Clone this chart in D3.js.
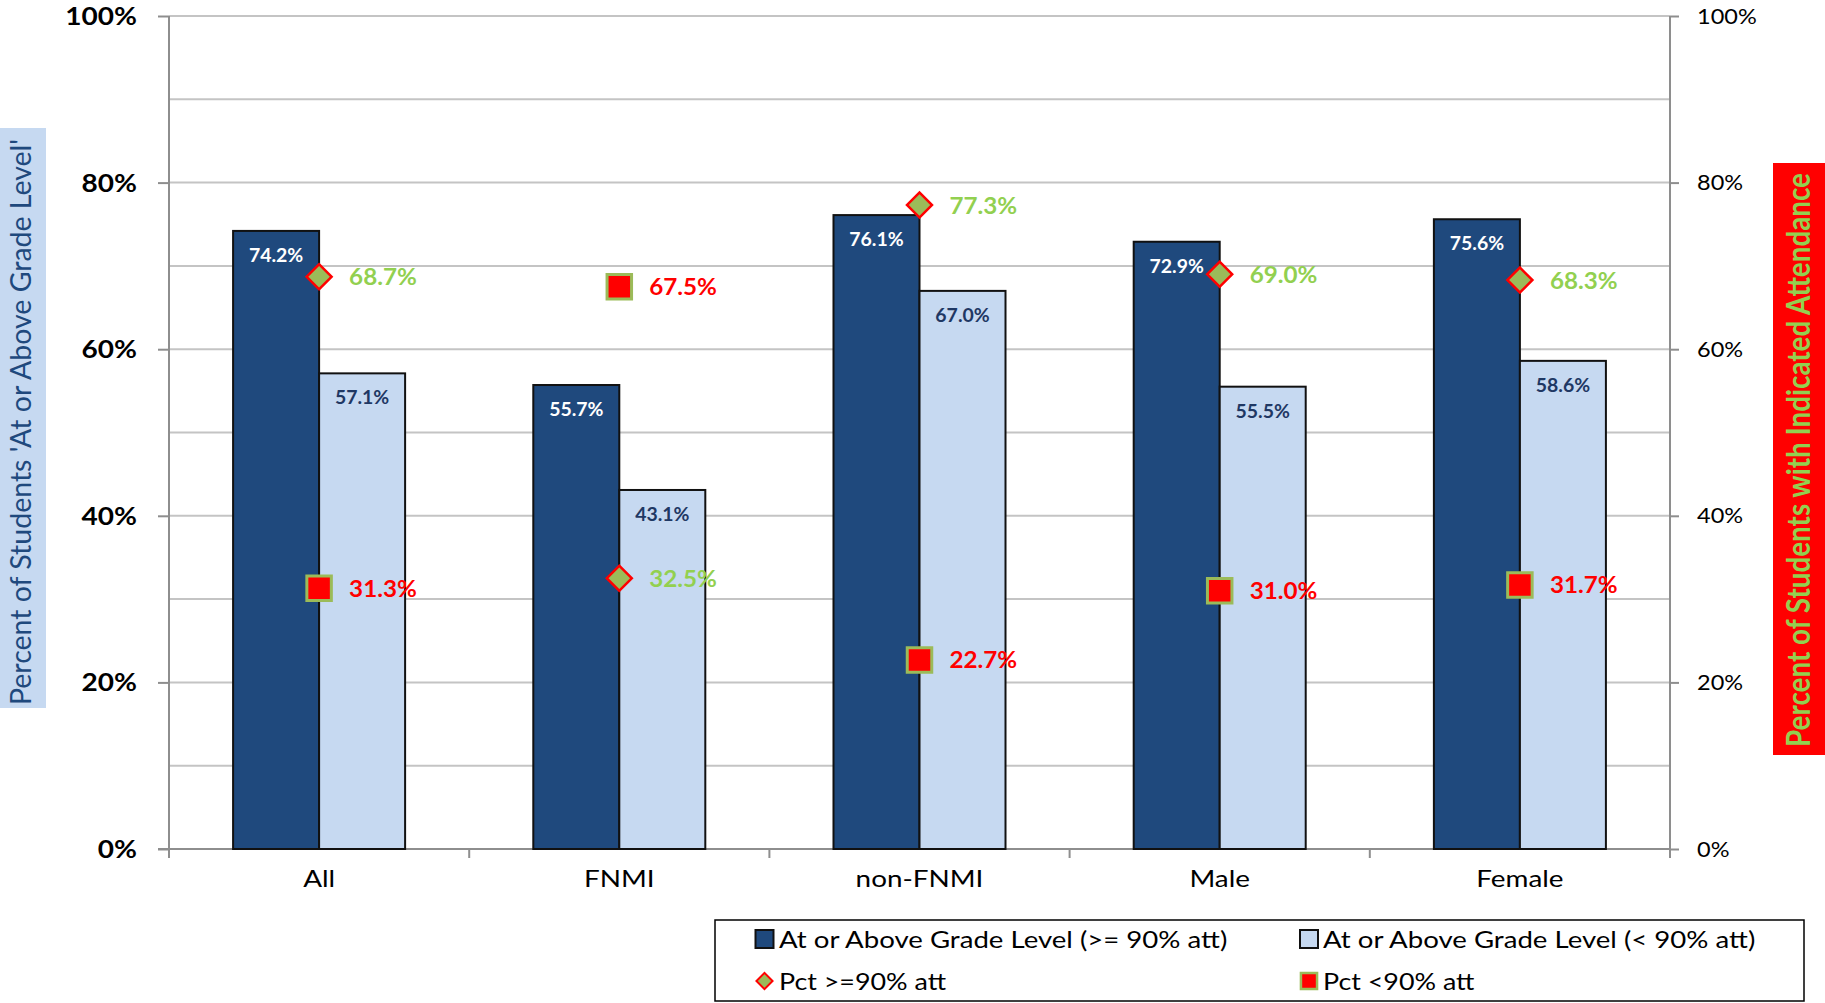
<!DOCTYPE html>
<html>
<head>
<meta charset="utf-8">
<script src="https://cdn.jsdelivr.net/npm/d3@7"></script>
<style>
  html, body { margin: 0; padding: 0; background: #ffffff; }
  svg { display: block; font-family: Lato, "Open Sans", sans-serif; }
</style>
</head>
<body>
<svg id="chart" width="1825" height="1003"></svg>
<script>
// Student groups along the x axis
const categories = ["All", "FNMI", "non-FNMI", "Male", "Female"];
// Percent at or above grade level, by attendance band (left axis)
const gradeHighAtt = [74.2, 55.7, 76.1, 72.9, 75.6];
const gradeLowAtt = [57.1, 43.1, 67.0, 55.5, 58.6];
// Share of students in each attendance band (right axis)
const pctHighAtt = [68.7, 32.5, 77.3, 69.0, 68.3];
const pctLowAtt = [31.3, 67.5, 22.7, 31.0, 31.7];
// Axis ticks
const majorTicks = [0, 20, 40, 60, 80, 100];
const gridTicks = [10, 20, 30, 40, 50, 60, 70, 80, 90, 100];

const legendItems = [
  { label: "At or Above Grade Level (>= 90% att)", kind: "barHigh" },
  { label: "At or Above Grade Level (< 90% att)", kind: "barLow" },
  { label: "Pct >=90% att", kind: "diamond" },
  { label: "Pct <90% att", kind: "square" }
];

const C = {
  dark: "#1F497D",
  light: "#C6D9F1",
  olive: "#9BBB59",
  green: "#92D050",
  red: "#FF0000",
  navyText: "#1F3864",
  grid: "#C4C4C4",
  axis: "#8E8E8E"
};

const svg = d3.select("#chart");
const plot = { left: 169, right: 1670, top: 16, bottom: 849 };

const x = d3.scaleBand().domain(categories).range([plot.left, plot.right]).padding(0);
const inner = d3.scaleBand().domain(["high", "low"])
  .range([x.bandwidth() * 0.2135, x.bandwidth() * 0.7865]).padding(0);
const yLeft = d3.scaleLinear().domain([0, 100]).range([plot.bottom, plot.top]);
const yRight = d3.scaleLinear().domain([0, 100]).range([plot.bottom, plot.top]);

// Text helper: horizontal stretch via scale() to mimic the wide face of the original
function label(parent, px, py, str, o) {
  const g = parent.append("g")
    .attr("transform", `translate(${px},${py}) rotate(${o.rotate || 0}) scale(${o.sx || 1},${o.sy || 1})`);
  g.append("text")
    .attr("text-anchor", o.anchor || "start")
    .attr("dominant-baseline", o.baseline || "alphabetic")
    .attr("font-size", o.size)
    .attr("font-weight", o.weight || 400)
    .attr("fill", o.fill || "#000")
    .text(str);
  return g;
}

// Horizontal gridlines
svg.append("g").selectAll("line").data(gridTicks).join("line")
  .attr("x1", plot.left).attr("x2", plot.right)
  .attr("y1", d => yLeft(d)).attr("y2", d => yLeft(d))
  .attr("stroke", C.grid).attr("stroke-width", 2);

// Left axis (major ticks only)
const leftAxis = svg.append("g").attr("transform", `translate(${plot.left},0)`)
  .call(d3.axisLeft(yLeft).tickValues(majorTicks).tickSize(11).tickFormat(""));
leftAxis.select(".domain").remove();
leftAxis.selectAll(".tick line").attr("stroke", C.axis).attr("stroke-width", 2);
svg.append("line").attr("x1", plot.left).attr("x2", plot.left)
  .attr("y1", plot.top).attr("y2", plot.bottom + 9)
  .attr("stroke", C.axis).attr("stroke-width", 2);

// Right axis
const rightAxis = svg.append("g").attr("transform", `translate(${plot.right},0)`)
  .call(d3.axisRight(yRight).tickValues(majorTicks).tickSize(9).tickFormat(""));
rightAxis.select(".domain").remove();
rightAxis.selectAll(".tick line").attr("stroke", C.axis).attr("stroke-width", 2);
svg.append("line").attr("x1", plot.right).attr("x2", plot.right)
  .attr("y1", plot.top).attr("y2", plot.bottom + 9)
  .attr("stroke", C.axis).attr("stroke-width", 2);

// Bottom axis with category separator ticks
svg.append("line").attr("x1", plot.left - 11).attr("x2", plot.right)
  .attr("y1", plot.bottom).attr("y2", plot.bottom)
  .attr("stroke", C.axis).attr("stroke-width", 2);
svg.append("g").selectAll("line").data(categories.slice(1)).join("line")
  .attr("x1", d => x(d)).attr("x2", d => x(d))
  .attr("y1", plot.bottom).attr("y2", plot.bottom + 9)
  .attr("stroke", C.axis).attr("stroke-width", 2);

// Tick labels
majorTicks.forEach(t => {
  label(svg, 137, yLeft(t) + 9, t + "%", { size: 25, weight: 700, anchor: "end", sx: 1.12 });
  label(svg, 1697, yRight(t) + 7.5, t + "%", { size: 21, anchor: "start", sx: 1.12 });
});
categories.forEach(c => {
  label(svg, x(c) + x.bandwidth() / 2, 887, c, { size: 24, anchor: "middle", sx: 1.16 });
});

// Bars
const rows = categories.map((c, i) => ({
  cat: c, high: gradeHighAtt[i], low: gradeLowAtt[i], pHigh: pctHighAtt[i], pLow: pctLowAtt[i]
}));

const groups = svg.append("g").selectAll("g").data(rows).join("g")
  .attr("transform", d => `translate(${x(d.cat)},0)`);

groups.append("rect")
  .attr("x", inner("high")).attr("width", inner.bandwidth())
  .attr("y", d => yLeft(d.high)).attr("height", d => yLeft(0) - yLeft(d.high))
  .attr("fill", C.dark).attr("stroke", "#111").attr("stroke-width", 2);
groups.append("rect")
  .attr("x", inner("low")).attr("width", inner.bandwidth())
  .attr("y", d => yLeft(d.low)).attr("height", d => yLeft(0) - yLeft(d.low))
  .attr("fill", C.light).attr("stroke", "#111").attr("stroke-width", 2);

rows.forEach(d => {
  const bx = x(d.cat);
  label(svg, bx + inner("high") + inner.bandwidth() / 2, yLeft(d.high) + 31, d.high.toFixed(1) + "%",
    { size: 18, weight: 700, anchor: "middle", fill: "#ffffff", sx: 1.08 });
  label(svg, bx + inner("low") + inner.bandwidth() / 2, yLeft(d.low) + 31, d.low.toFixed(1) + "%",
    { size: 18, weight: 700, anchor: "middle", fill: C.navyText, sx: 1.08 });
});

// Attendance-share markers, centred on each category
const diamond = d3.symbol(d3.symbolSquare, 313);
const square = d3.symbol(d3.symbolSquare, 600);

rows.forEach(d => {
  const cx = x(d.cat) + x.bandwidth() / 2;
  svg.append("path").attr("d", diamond())
    .attr("transform", `translate(${cx},${yRight(d.pHigh)}) rotate(45)`)
    .attr("fill", C.olive).attr("stroke", C.red).attr("stroke-width", 2.5);
  label(svg, cx + 30, yRight(d.pHigh) + 8.5, d.pHigh.toFixed(1) + "%",
    { size: 22, weight: 700, fill: C.green, sx: 1.1 });

  svg.append("path").attr("d", square())
    .attr("transform", `translate(${cx},${yRight(d.pLow)})`)
    .attr("fill", C.red).attr("stroke", C.olive).attr("stroke-width", 3);
  label(svg, cx + 30, yRight(d.pLow) + 8.5, d.pLow.toFixed(1) + "%",
    { size: 22, weight: 700, fill: C.red, sx: 1.1 });
});

// Axis titles
svg.append("rect").attr("x", 0).attr("y", 128).attr("width", 46).attr("height", 580).attr("fill", C.light);
label(svg, 31, 422, "Percent of Students 'At or Above Grade Level'",
  { size: 25, fill: C.dark, anchor: "middle", rotate: -90, sx: 1.14, sy: 1.15 });

svg.append("rect").attr("x", 1773).attr("y", 163).attr("width", 52).attr("height", 592).attr("fill", C.red);
label(svg, 1810, 460, "Percent of Students with Indicated Attendance",
  { size: 27, weight: 700, fill: C.green, anchor: "middle", rotate: -90, sx: 1.03, sy: 1.18 });

// Legend
svg.append("rect").attr("x", 715).attr("y", 920).attr("width", 1089).attr("height", 81)
  .attr("fill", "#fff").attr("stroke", "#000").attr("stroke-width", 1.5);

const legendPos = [
  { mx: 764.5, tx: 779, y: 939, sx: 1.15 },
  { mx: 1309, tx: 1323, y: 939, sx: 1.15 },
  { mx: 764.5, tx: 779, y: 981, sx: 1.12 },
  { mx: 1309, tx: 1323, y: 981, sx: 1.12 }
];
legendItems.forEach((it, i) => {
  const p = legendPos[i];
  if (it.kind === "barHigh" || it.kind === "barLow") {
    svg.append("rect").attr("x", p.mx - 9).attr("y", p.y - 9).attr("width", 18).attr("height", 18)
      .attr("fill", it.kind === "barHigh" ? C.dark : C.light).attr("stroke", "#111").attr("stroke-width", 2);
  } else if (it.kind === "diamond") {
    svg.append("path").attr("d", d3.symbol(d3.symbolSquare, 130)())
      .attr("transform", `translate(${p.mx},${p.y}) rotate(45)`)
      .attr("fill", C.olive).attr("stroke", C.red).attr("stroke-width", 2);
  } else {
    svg.append("path").attr("d", d3.symbol(d3.symbolSquare, 260)())
      .attr("transform", `translate(${p.mx},${p.y})`)
      .attr("fill", C.red).attr("stroke", C.olive).attr("stroke-width", 2.5);
  }
  label(svg, p.tx, p.y + 8.5, it.label, { size: 24, fill: "#000", sx: p.sx });
});
</script>
</body>
</html>
